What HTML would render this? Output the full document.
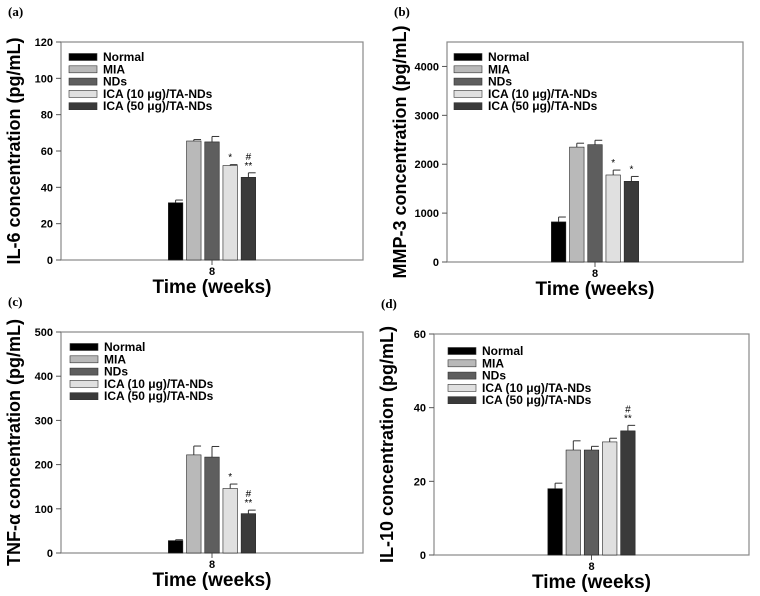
<!DOCTYPE html>
<html><head><meta charset="utf-8"><style>
body{margin:0;background:#fff;}
svg{display:block;font-family:"Liberation Sans",sans-serif;}
</style></head><body>
<svg id="c" width="760" height="596" viewBox="0 0 760 596" xmlns="http://www.w3.org/2000/svg"></svg>
<script>
const groups = ["Normal","MIA","NDs","ICA (10 \u03bcg)/TA-NDs","ICA (50 \u03bcg)/TA-NDs"];
const il6Values = [31.5,65.5,65,52,45.5];
const il6Errors = [1.5,0.8,3,0.5,2.5];
const il6Marks = ["","","","*","#\n**"];
const mmp3Values = [820,2350,2400,1780,1650];
const mmp3Errors = [100,80,90,100,100];
const mmp3Marks = ["","","","*","*"];
const tnfValues = [28,222,217,146,89];
const tnfErrors = [2,20,24,10,8];
const tnfMarks = ["","","","*","#\n**"];
const il10Values = [18,28.5,28.5,30.7,33.7];
const il10Errors = [1.5,2.5,1,1,1.5];
const il10Marks = ["","","","","#\n**"];
const il6Ticks = [0,20,40,60,80,100,120];
const mmp3Ticks = [0,1000,2000,3000,4000];
const tnfTicks = [0,100,200,300,400,500];
const il10Ticks = [0,20,40,60];
const colors = ["#000000","#b9b9b9","#5e5e5e","#e0e0e0","#3a3a3a"];
const NS="http://www.w3.org/2000/svg";
const svg=document.getElementById('c');
function mk(tag,attrs,parent,text){const e=document.createElementNS(NS,tag);for(const k in attrs)e.setAttribute(k,attrs[k]);if(text!==undefined)e.textContent=text;(parent||svg).appendChild(e);return e;}
function panel(id,label,ytitle,L,T,R,B,ymax,ticks,vals,errs,marks,lx,ly){
  const g=mk('g',{});
  
  
  const y=v=>B-(v/ymax)*(B-T);
  const cx=(L+R)/2;
  const pl=mk('text',{x:L-53,y:T-26,'font-family':'Liberation Serif,serif','font-weight':'bold','font-size':13},g,label);
  
  
  const fr=mk('rect',{x:L,y:T,width:R-L,height:B-T,fill:'none',stroke:'#888','stroke-width':1.2},g);
  
  
  ticks.forEach(t=>{
    mk('line',{x1:L-5,x2:L,y1:y(t),y2:y(t),stroke:'#555'},g);
    const tl=mk('text',{x:L-8,y:y(t)+4,'text-anchor':'end','font-weight':'bold','font-size':11},g,String(t));
    
    
  });
  mk('line',{x1:cx,x2:cx,y1:B,y2:B+5,stroke:'#555'},g);
  const xt=mk('text',{x:cx,y:B+15,'text-anchor':'middle','font-weight':'bold','font-size':11},g,'8');
  
  
  const xl=mk('text',{x:cx,y:B+33,'text-anchor':'middle','font-weight':'bold','font-size':19},g,'Time (weeks)');
  
  
  const yl=mk('text',{x:0,y:0,'text-anchor':'middle','font-weight':'bold','font-size':18,transform:`translate(${L-41},${(T+B)/2}) rotate(-90)`},g,ytitle);
  
  
  const bw=14.5, step=18.2, start=cx-2*step-bw/2;
  vals.forEach((v,i)=>{
    const x=start+i*step;
    const top=y(v), et=y(v+errs[i]);
    mk('line',{x1:x+bw/2,x2:x+bw/2,y1:top,y2:et,stroke:'#333'},g);
    mk('line',{x1:x+bw/2,x2:x+bw,y1:et,y2:et,stroke:'#333'},g);
    const r=mk('rect',{x:x,y:top,width:bw,height:B-top,fill:colors[i],stroke:'#222','stroke-width':0.6},g);
    
    
    const lines=marks[i]?marks[i].split('\n'):[];
    lines.reverse().forEach((m,k)=>{
      const s=mk('text',{x:x+bw/2,y:et-4-k*9,'text-anchor':'middle','font-size':10},g,m);
      
      
    });
  });
  groups.forEach((name,i)=>{
    const yy=ly+i*12.3;
    const sw=mk('rect',{x:lx,y:yy-3.5,width:28,height:7,fill:colors[i],stroke:'#333','stroke-width':0.6},g);
    
    
    const lt=mk('text',{x:lx+34,y:yy+4,'font-weight':'bold','font-size':12},g,name);
    
    
  });
}
panel('a','(a)','IL-6 concentration (pg/mL)',61,42,363,260,120,il6Ticks,il6Values,il6Errors,il6Marks,69,57);
panel('b','(b)','MMP-3 concentration (pg/mL)',447,42,743,262,4500,mmp3Ticks,mmp3Values,mmp3Errors,mmp3Marks,454,57);
panel('c','(c)','TNF-\u03b1 concentration (pg/mL)',61,332,363,553,500,tnfTicks,tnfValues,tnfErrors,tnfMarks,70,347);
panel('d','(d)','IL-10 concentration (pg/mL)',434,334,749,555,60,il10Ticks,il10Values,il10Errors,il10Marks,448,351);
</script>
</body></html>
